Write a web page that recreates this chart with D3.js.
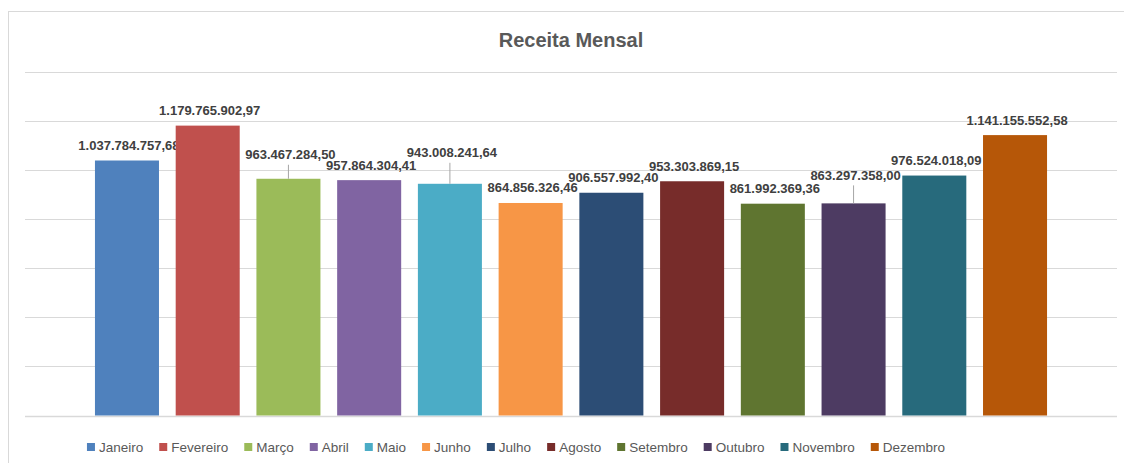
<!DOCTYPE html>
<html>
<head>
<meta charset="utf-8">
<script src="https://cdn.jsdelivr.net/npm/d3@7"></script>
<style>
  body { margin: 0; background: #fff; }
  svg { display: block; }
</style>
</head>
<body>
<div id="chart"></div>
<script>
const months = ['Janeiro', 'Fevereiro', 'Março', 'Abril', 'Maio', 'Junho', 'Julho', 'Agosto', 'Setembro', 'Outubro', 'Novembro', 'Dezembro'];
const receita = [1037784757.68, 1179765902.97, 963467284.50, 957864304.41, 943008241.64, 864856326.46, 906557992.40, 953303869.15, 861992369.36, 863297358.00, 976524018.09, 1141155552.58];
const colors = ['#4f81bd', '#c0504d', '#9bbb59', '#8064a2', '#4bacc6', '#f79646', '#2c4d75', '#772c2a', '#5f7530', '#4d3b62', '#276a7c', '#b65708'];
const gridTicks = [0, 200e6, 400e6, 600e6, 800e6, 1000e6, 1200e6, 1400e6];

// labels that Excel pushed up with a leader line (extra lift, px)
const leaderLift = { 'Março': 9, 'Maio': 16, 'Outubro': 13 };

const width = 1124;
const height = 463;

const svg = d3.select('#chart').append('svg')
    .attr('width', width)
    .attr('height', height);

// chart frame (only left/top visible in crop)
svg.append('rect')
    .attr('x', 8.5)
    .attr('y', 11.5)
    .attr('width', 1200)
    .attr('height', 600)
    .attr('fill', '#fff')
    .attr('stroke', '#d9d9d9');

const x = d3.scaleBand()
    .domain(months)
    .range([86.6, 1055.4])
    .paddingInner(0.207)
    .paddingOuter(0.1035);

const y = d3.scaleLinear()
    .domain([0, 1400e6])
    .range([415.5, 71.5]);

svg.append('g')
    .selectAll('line')
    .data(gridTicks)
    .join('line')
    .attr('x1', 25)
    .attr('x2', 1117)
    .attr('y1', d => Math.round(y(d)) + 0.5)
    .attr('y2', d => Math.round(y(d)) + 0.5)
    .attr('stroke', '#d9d9d9')
    .attr('stroke-width', d => (d === 0 ? 1.5 : 1));

svg.append('text')
    .text('Receita Mensal')
    .attr('x', 571)
    .attr('y', 47)
    .attr('text-anchor', 'middle')
    .attr('font-family', 'Liberation Sans, Arial, sans-serif')
    .attr('font-size', 20)
    .attr('font-weight', 'bold')
    .attr('fill', '#595959');

const fmt = v => v.toLocaleString('pt-BR', { minimumFractionDigits: 2, maximumFractionDigits: 2 });

const bars = svg.append('g')
    .selectAll('g')
    .data(months.map((m, i) => ({ m, v: receita[i], c: colors[i] })))
    .join('g');

bars.append('rect')
    .attr('x', d => x(d.m))
    .attr('y', d => y(d.v))
    .attr('width', x.bandwidth())
    .attr('height', d => y(0) - y(d.v))
    .attr('fill', d => d.c);

bars.filter(d => leaderLift[d.m])
    .append('line')
    .attr('x1', d => x(d.m) + x.bandwidth() / 2)
    .attr('x2', d => x(d.m) + x.bandwidth() / 2)
    .attr('y1', d => y(d.v) - 15 - leaderLift[d.m] + 10)
    .attr('y2', d => y(d.v))
    .attr('stroke', '#a6a6a6')
    .attr('stroke-width', 1);

bars.append('text')
    .text(d => fmt(d.v))
    .attr('x', d => x(d.m) + x.bandwidth() / 2 + 2)
    .attr('y', d => y(d.v) - 10.5 - (leaderLift[d.m] || 0))
    .attr('text-anchor', 'middle')
    .attr('font-family', 'Liberation Sans, Arial, sans-serif')
    .attr('font-size', 13)
    .attr('font-weight', 'bold')
    .attr('fill', '#404040');

// legend
const legend = svg.append('g');
let lx = 0;
months.forEach((m, i) => {
    const item = legend.append('g').attr('transform', `translate(${lx},0)`);
    item.append('rect')
        .attr('x', 0)
        .attr('y', -4)
        .attr('width', 8)
        .attr('height', 8)
        .attr('fill', colors[i]);
    const t = item.append('text')
        .text(m)
        .attr('x', 12)
        .attr('y', 5)
        .attr('font-family', 'Liberation Sans, Arial, sans-serif')
        .attr('font-size', 13.5)
        .attr('fill', '#595959');
    lx += 12 + t.node().getComputedTextLength() + 16;
});
const legendW = lx - 16;
legend.attr('transform', `translate(${516 - legendW / 2},447)`);
</script>
</body>
</html>
